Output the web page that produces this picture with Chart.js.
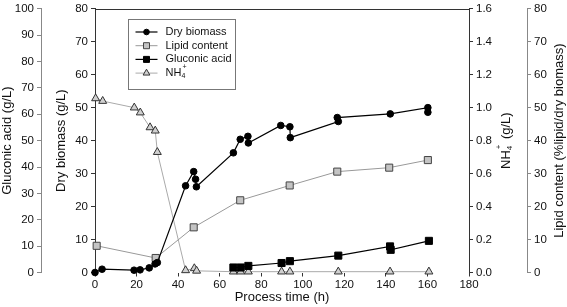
<!DOCTYPE html>
<html>
<head>
<meta charset="utf-8">
<script src="https://cdn.jsdelivr.net/npm/chart.js@4/dist/chart.umd.min.js"></script>
<style>
  body { margin: 0; background: #fff; }
  #wrap { width: 567px; height: 307px; }
</style>
</head>
<body>
<div id="wrap"><canvas id="fermCanvas" width="567" height="307"></canvas></div>
<script>
// values
var biomassTime = [0, 3.4, 18.8, 21.7, 26.1, 28.9, 30, 43.6, 47.5, 48.4, 48.8, 66.6, 69.9, 73.6, 73.8, 89.4, 93.8, 94, 117.1, 116.6, 142.1, 160.2, 160.2];
var biomass     = [0, 1.0, 0.7, 0.8, 1.4, 2.6, 3.0, 26.3, 30.6, 28.3, 26.0, 36.3, 40.4, 41.3, 39.3, 44.6, 44.2, 40.9, 45.8, 47.0, 48.1, 50.0, 48.6];

var lipidTime = [0.8, 29.2, 47.5, 69.9, 93.7, 116.6, 141.6, 160.2];
var lipid     = [8.1, 4.4, 13.7, 21.9, 26.4, 30.6, 31.8, 34.1];

var gluconicTime = [66.6, 70.1, 73.8, 89.8, 93.8, 117.1, 142, 142.3, 160.7];
var gluconic     = [1.9, 1.9, 2.5, 3.6, 4.3, 6.4, 9.9, 8.6, 12.0];

var nh4Time = [0.3, 3.7, 18.9, 21.8, 26.5, 29, 30, 43.6, 47.8, 48.9, 66.6, 70.1, 73.8, 89.8, 93.8, 117.1, 142, 160.7];
var nh4     = [1.056, 1.04, 1.0, 0.97, 0.88, 0.86, 0.73, 0.013, 0.025, 0.01, 0.005, 0.005, 0.005, 0.005, 0.005, 0.005, 0.005, 0.005];

var xTicks = [0, 20, 40, 60, 80, 100, 120, 140, 160, 180];

function pts(t, v) {
  return t.map(function(x, i) { return {x: x, y: v[i]}; });
}

var FONT = "'Liberation Sans', Arial, sans-serif";
var tickFont = {family: FONT, size: 11.5, lineHeight: 1};
var titleFont = {family: FONT, size: 13};

// legend box + right-hand titles + top frame line
var extras = {
  id: 'extras',
  afterDraw: function(chart) {
    var ctx = chart.ctx, a = chart.chartArea;
    ctx.save();

    // top frame line
    ctx.strokeStyle = '#333';
    ctx.lineWidth = 1;
    ctx.beginPath();
    ctx.moveTo(a.left, Math.round(a.top) + 0.5);
    ctx.lineTo(a.right, Math.round(a.top) + 0.5);
    ctx.stroke();

    // legend
    var x0 = Math.round(a.left + 33) + 0.5, y0 = Math.round(a.top + 10) + 0.5;
    ctx.fillStyle = '#fff';
    ctx.fillRect(x0, y0, 107, 70);
    ctx.strokeStyle = '#777';
    ctx.strokeRect(x0, y0, 107, 70);
    chart.data.datasets.forEach(function(ds, i) {
      var y = y0 + 12.5 + i * 13.7;
      ctx.strokeStyle = ds.borderColor;
      ctx.lineWidth = ds.borderWidth;
      ctx.beginPath();
      ctx.moveTo(x0 + 7, y);
      ctx.lineTo(x0 + 29, y);
      ctx.stroke();
      ctx.fillStyle = ds.pointBackgroundColor;
      ctx.strokeStyle = ds.pointBorderColor;
      ctx.lineWidth = ds.pointBorderWidth;
      Chart.helpers.drawPoint(ctx, {pointStyle: ds.pointStyle, radius: ds.pointRadius * 0.85, borderWidth: ds.pointBorderWidth}, x0 + 18, y);
      ctx.fillStyle = '#111';
      ctx.font = '11px ' + FONT;
      ctx.textBaseline = 'middle';
      ctx.textAlign = 'left';
      if (ds.label === 'NH4+') {
        ctx.fillText('NH', x0 + 37, y);
        var w = ctx.measureText('NH').width;
        ctx.font = '7px ' + FONT;
        ctx.fillText('4', x0 + 37 + w, y + 3);
        ctx.fillText('+', x0 + 37 + w + 1, y - 6);
      } else {
        ctx.fillText(ds.label, x0 + 37, y);
      }
    });

    // right-hand axis titles, reading bottom to top
    var cy = (a.top + a.bottom) / 2;
    ctx.fillStyle = '#111';
    ctx.textBaseline = 'middle';

    var sN = chart.scales.yN;
    ctx.save();
    ctx.translate(sN.right - 21, cy);
    ctx.rotate(-Math.PI / 2);
    ctx.font = '13px ' + FONT;
    var wNH = ctx.measureText('NH').width;
    var wRest = ctx.measureText(' (g/L)').width;
    ctx.font = '8px ' + FONT;
    var w4 = ctx.measureText('4').width;
    var total = wNH + w4 + 3 + wRest;
    var sx = -total / 2;
    ctx.textAlign = 'left';
    ctx.font = '13px ' + FONT;
    ctx.fillText('NH', sx, 0);
    ctx.font = '8px ' + FONT;
    ctx.fillText('4', sx + wNH, 4);
    ctx.fillText('+', sx + wNH + 1, -7);
    ctx.font = '13px ' + FONT;
    ctx.fillText(' (g/L)', sx + wNH + w4 + 3, 0);
    ctx.restore();

    var sL = chart.scales.yL;
    ctx.save();
    ctx.translate(sL.right - 8, cy);
    ctx.rotate(-Math.PI / 2);
    ctx.font = '13px ' + FONT;
    ctx.textAlign = 'center';
    ctx.fillText('Lipid content (%lipid/dry biomass)', 0, 0);
    ctx.restore();

    ctx.restore();
  }
};

new Chart(document.getElementById('fermCanvas'), {
  type: 'line',
  data: {
    datasets: [
      {
        label: 'Dry biomass',
        data: pts(biomassTime, biomass),
        yAxisID: 'yB',
        borderColor: '#000',
        borderWidth: 1.2,
        pointStyle: 'circle',
        pointRadius: 3.3,
        pointBackgroundColor: '#000',
        pointBorderColor: '#000',
        pointBorderWidth: 1,
        clip: false
      },
      {
        label: 'Lipid content',
        data: pts(lipidTime, lipid),
        yAxisID: 'yL',
        borderColor: '#999',
        borderWidth: 1,
        pointStyle: 'rect',
        pointRadius: 5,
        pointBackgroundColor: '#c4c4c4',
        pointBorderColor: '#444',
        pointBorderWidth: 1,
        clip: false
      },
      {
        label: 'Gluconic acid',
        data: pts(gluconicTime, gluconic),
        yAxisID: 'yG',
        borderColor: '#000',
        borderWidth: 1.2,
        pointStyle: 'rect',
        pointRadius: 5,
        pointBackgroundColor: '#000',
        pointBorderColor: '#000',
        pointBorderWidth: 1,
        clip: false
      },
      {
        label: 'NH4+',
        data: pts(nh4Time, nh4),
        yAxisID: 'yN',
        borderColor: '#aaa',
        borderWidth: 1,
        pointStyle: 'triangle',
        pointRadius: 4.6,
        pointBackgroundColor: '#d0d0d0',
        pointBorderColor: '#333',
        pointBorderWidth: 1,
        clip: false
      }
    ]
  },
  options: {
    responsive: false,
    devicePixelRatio: 1,
    animation: false,
    layout: { padding: { top: 5, left: 0, right: 0, bottom: 0 } },
    plugins: { legend: { display: false }, tooltip: { enabled: false } },
    elements: { line: { tension: 0 } },
    scales: {
      x: {
        type: 'linear',
        min: 0, max: 180,
        afterBuildTicks: function(s) { s.ticks = xTicks.map(function(v) { return {value: v}; }); },
        ticks: { font: tickFont, color: '#111', padding: 3, maxRotation: 0 },
        grid: { drawOnChartArea: false, tickLength: 4, color: '#333' },
        border: { display: false },
        title: { display: true, text: 'Process time (h)', font: titleFont, color: '#111', padding: { top: 0, bottom: 2 } },
        afterFit: function(s) { s.height = 34.5; }
      },
      yG: {
        position: 'left', weight: 1,
        min: 0, max: 100,
        ticks: { stepSize: 10, font: tickFont, color: '#111', padding: 3 },
        grid: { drawOnChartArea: false, tickLength: 4, color: '#888' },
        border: { color: '#888' },
        title: { display: true, text: 'Gluconic acid (g/L)', font: titleFont, color: '#111', padding: { top: 0, bottom: 0 } },
        afterFit: function(s) { s.width = 41; }
      },
      yB: {
        position: 'left', weight: 0,
        min: 0, max: 80,
        ticks: { stepSize: 10, font: tickFont, color: '#111', padding: 3 },
        grid: { drawOnChartArea: false, tickLength: 4, color: '#333' },
        border: { color: '#333' },
        title: { display: true, text: 'Dry biomass (g/L)', font: titleFont, color: '#111', padding: { top: 13, bottom: 0 } },
        afterFit: function(s) { s.width = 54; }
      },
      yN: {
        position: 'right', weight: 0,
        min: 0, max: 1.6,
        ticks: { stepSize: 0.2, font: tickFont, color: '#111', padding: 3, callback: function(v) { return v.toFixed(1); } },
        grid: { drawOnChartArea: false, tickLength: 4, color: '#333' },
        border: { color: '#333' },
        afterFit: function(s) { s.width = 58; }
      },
      yL: {
        position: 'right', weight: 1,
        min: 0, max: 80,
        ticks: { stepSize: 10, font: tickFont, color: '#111', padding: 3 },
        grid: { drawOnChartArea: false, tickLength: 4, color: '#888' },
        border: { color: '#888' },
        afterFit: function(s) { s.width = 40; }
      }
    }
  },
  plugins: [extras]
});
</script>
</body>
</html>
